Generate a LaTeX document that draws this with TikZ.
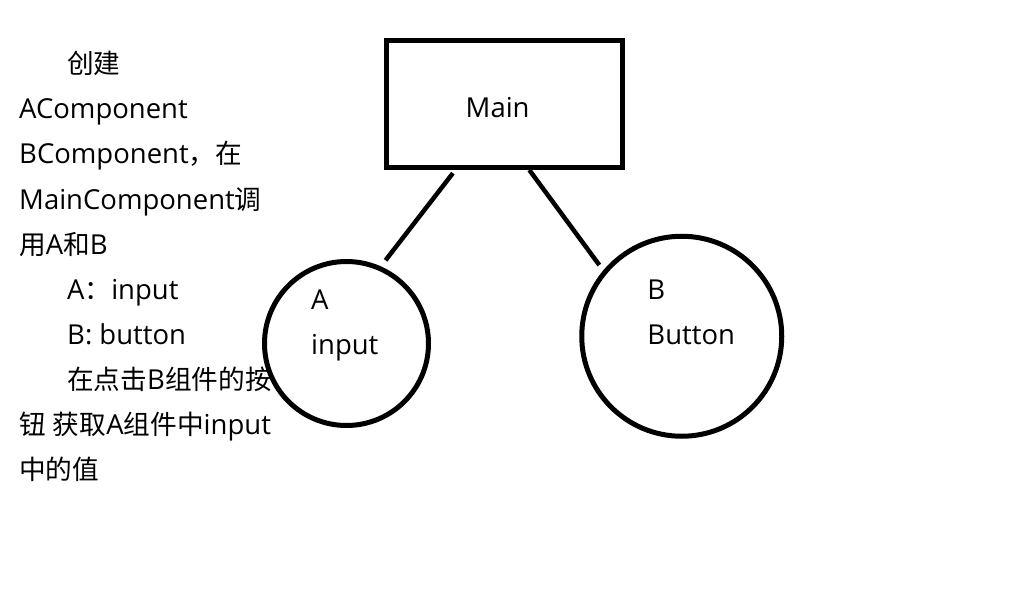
\documentclass[tikz,border=0pt]{standalone}
\usepackage{fontspec}
\setmainfont[Scale=1.03]{Open Sans}
\newfontfamily\cjk{Noto Sans CJK SC}
\usetikzlibrary{calc}
\newcommand{\zh}[1]{{\cjk #1}}

\begin{document}
\begin{tikzpicture}[x=1pt, y=-1pt]
\tikzstyle{note_line}=[anchor=base west, inner sep=0pt, font=\fontsize{26.67}{45}\selectfont]
\tikzstyle{box_main}=[rectangle, draw=black, line width=5pt, minimum width=236pt, minimum height=127pt, inner sep=0pt]
\tikzstyle{comp_a}=[circle, draw=black, line width=5pt, minimum size=164pt, inner sep=0pt]
\tikzstyle{comp_b}=[circle, draw=black, line width=5pt, minimum size=200pt, inner sep=0pt]
\tikzstyle{in_text}=[anchor=north west, inner sep=0pt, align=left, font=\fontsize{26.67}{45}\selectfont]

\useasboundingbox (0,0) rectangle (1018,607);

\path (67,74) node[note_line](l1) {\zh{创建}}
      (19,119) node[note_line](l2) {AComponent}
      (19,164) node[note_line](l3) {BComponent\zh{，在}}
      (19,209) node[note_line](l4) {MainComponent\zh{调}}
      (19,254) node[note_line](l5) {\zh{用}A\zh{和}B}
      (67,299) node[note_line](l6) {A\zh{：}input}
      (67,344) node[note_line](l7) {B: button}
      (67,389) node[note_line](l8) {\zh{在点击}B\zh{组件的按}}
      (19,434) node[note_line](l9) {\zh{钮} \zh{获取}A\zh{组件中}input}
      (19,479) node[note_line](l10) {\zh{中的值}};

\path (504.5,104) node[box_main](Main) {}
      (346.5,343.5) node[comp_a](A) {}
      (681.75,336.25) node[comp_b](B) {};

\path ($(Main.center)+(-39,14)$) node[note_line](Main_t) {Main}
      ($(A.center)+(-35.5,-53.5)$) node[in_text](A_t) {A\\input}
      ($(B.center)+(-34.5,-57)$) node[in_text](B_t) {B\\Button};

\draw[line width=4.5pt, shorten <=4pt, shorten >=7.6pt] ($(Main.south west)!0.296!(Main.south east)$) -- (A.66.4);
\draw[line width=4.5pt, shorten >=6.6pt] ($(Main.south west)!0.603!(Main.south east)$) -- (B.140);

\end{tikzpicture}
\end{document}
